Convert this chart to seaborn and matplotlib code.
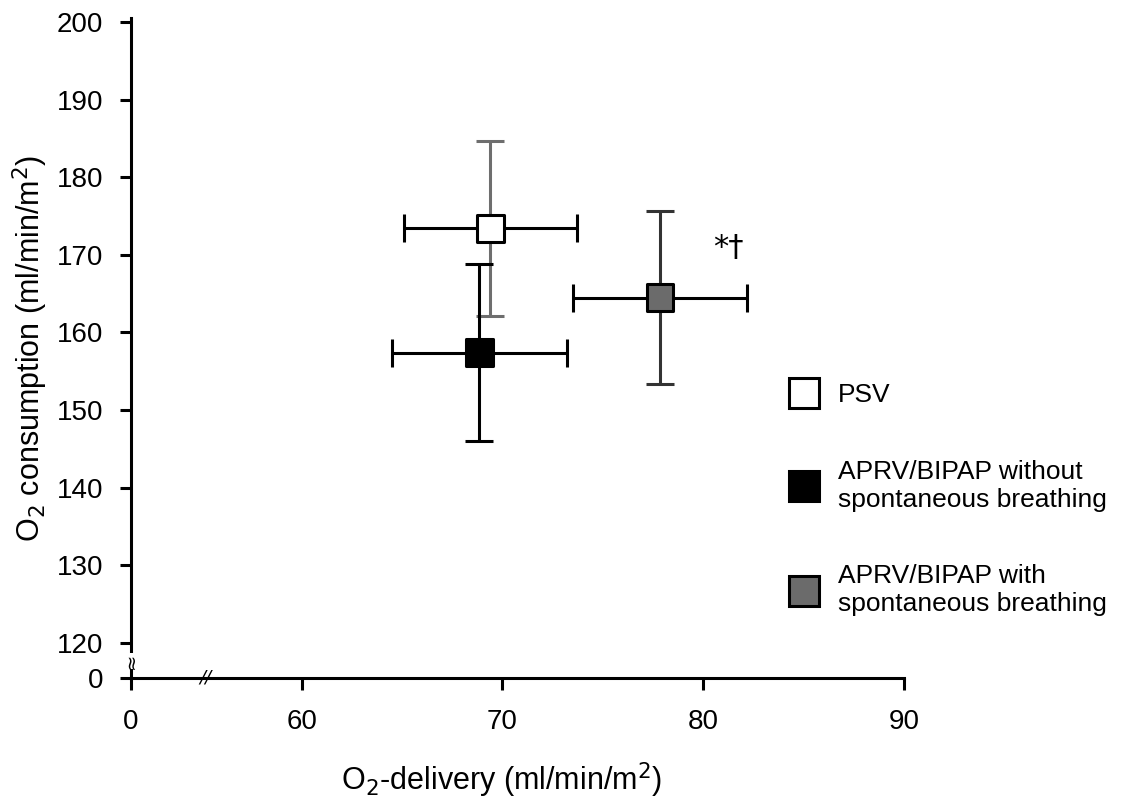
import matplotlib
matplotlib.use("Agg")
import matplotlib.pyplot as plt
from matplotlib.lines import Line2D
import seaborn as sns
import pandas as pd

# ---- data ----
modes = ["PSV", "APRV/BIPAP without\nspontaneous breathing", "APRV/BIPAP with\nspontaneous breathing"]
o2_delivery = [69.4, 68.85, 77.85]
o2_delivery_err = [4.3, 4.35, 4.35]
o2_consumption = [173.4, 157.4, 164.5]
o2_consumption_err = [11.3, 11.4, 11.2]
fill_colors = ["#ffffff", "#000000", "#6b6b6b"]
vbar_colors = ["#6e6e6e", "#000000", "#333333"]
x_ticks = [60, 70, 80, 90]
y_ticks = [120, 130, 140, 150, 160, 170, 180, 190, 200]
x_zero_pos = 51.5   # position of the "0" label left of the axis break
y_zero_pos = 115.5

df = pd.DataFrame({"mode": modes, "delivery": o2_delivery, "consumption": o2_consumption})

sns.set_theme(style="ticks")
plt.rcParams["font.family"] = ["Liberation Sans", "DejaVu Sans"]
plt.rcParams.update({"text.color": "black", "axes.labelcolor": "black",
                     "xtick.color": "black", "ytick.color": "black",
                     "axes.edgecolor": "black"})

fig = plt.figure(figsize=(11.24, 7.99), dpi=100)
ax = fig.add_axes([131 / 1124, 1 - 678 / 799, (904 - 131) / 1124, (678 - 18) / 799])

# error bars
for i in range(len(modes)):
    ax.errorbar(o2_delivery[i], o2_consumption[i], yerr=o2_consumption_err[i], fmt="none",
                ecolor=vbar_colors[i], elinewidth=2.2, capsize=10, capthick=2.2, zorder=2)
    ax.errorbar(o2_delivery[i], o2_consumption[i], xerr=o2_delivery_err[i], fmt="none",
                ecolor="black", elinewidth=2.2, capsize=10, capthick=2.2, zorder=2)

sns.scatterplot(data=df, x="delivery", y="consumption", hue="mode",
                palette=dict(zip(modes, fill_colors)), marker="s", s=360,
                edgecolor="black", linewidth=2.2, legend=False, zorder=3, ax=ax)

ax.text(81.25, 170.9, "*\u2020", fontsize=22, ha="center", va="center",
        family=["DejaVu Sans"], color="black")

ax.set_xlim(x_zero_pos, 90)
ax.set_ylim(y_zero_pos, 200.5)
ax.set_xticks([x_zero_pos] + x_ticks)
ax.set_xticklabels(["0"] + [str(v) for v in x_ticks])
ax.set_yticks([y_zero_pos] + y_ticks)
ax.set_yticklabels(["0"] + [str(v) for v in y_ticks])
ax.tick_params(axis="x", length=8.5, width=2.2, pad=14, labelsize=20, color="black", labelcolor="black")
ax.tick_params(axis="y", length=8, width=2.2, pad=12, labelsize=20, color="black", labelcolor="black")

sns.despine(ax=ax)
for s in ["left", "bottom"]:
    ax.spines[s].set_linewidth(2.2)
    ax.spines[s].set_color("black")

ax.set_xlabel("O$_2$-delivery (ml/min/m$^2$)", fontsize=22, color="black")
ax.set_ylabel("O$_2$ consumption (ml/min/m$^2$)", fontsize=22, color="black")
ax.xaxis.set_label_coords(0.48, -0.125)
ax.yaxis.set_label_coords(-0.105, 0.5)

# axis break marks
ax.text(55.2, 0, "//", fontsize=13, ha="center", va="center", fontstyle="italic",
        transform=ax.get_xaxis_transform(), clip_on=False, family=["DejaVu Sans"], color="black")
ax.text(0, 117.7, "\u2248", fontsize=14, ha="center", va="center", rotation=90,
        transform=ax.get_yaxis_transform(), clip_on=False, family=["DejaVu Sans"], color="black",
        bbox=dict(facecolor="white", edgecolor="none", pad=0))

# legend
handles = [Line2D([], [], linestyle="none", marker="s", markersize=21,
                  markerfacecolor=c, markeredgecolor="black", markeredgewidth=2.2)
           for c in fill_colors]
leg = fig.legend(handles, modes, loc="upper left", bbox_to_anchor=(788 / 1124, 1 - 383 / 799),
                 frameon=False, fontsize=19, labelspacing=2.0, handlelength=1.2,
                 handletextpad=0.7, borderpad=0, borderaxespad=0)
for t in leg.get_texts():
    t.set_color("black")

fig.savefig("out.png", dpi=100)
